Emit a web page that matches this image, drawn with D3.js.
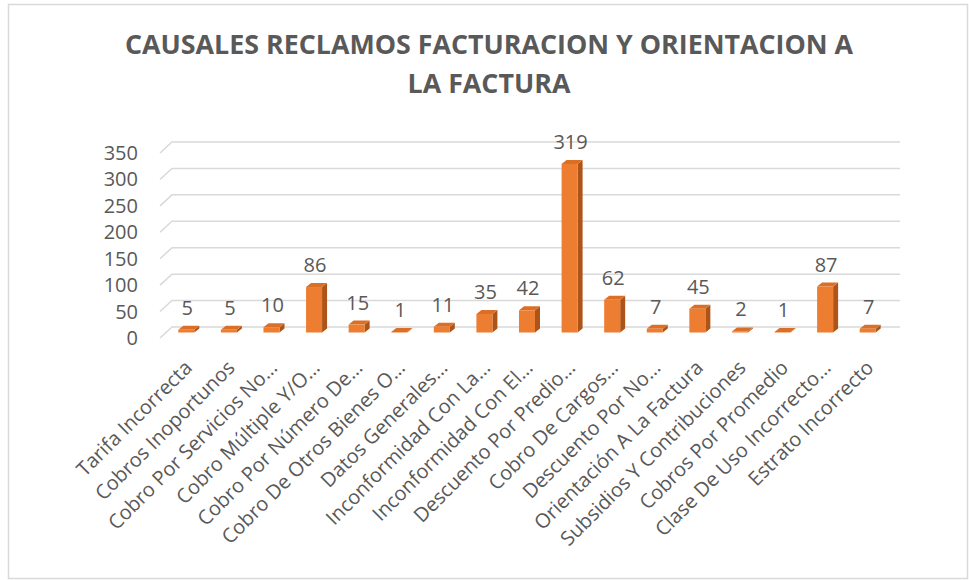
<!DOCTYPE html>
<html lang="es">
<head>
    <meta charset="UTF-8">
    <title>Causales reclamos facturacion</title>
    <script src="https://d3js.org/d3.v7.min.js"></script>
    <style>
        body { margin: 0; background: #fff; }
    </style>
</head>
<body>
    <div id="chart"></div>
    <script>
        // chart data
        const categories = [
            "Tarifa Incorrecta", "Cobros Inoportunos", "Cobro Por Servicios No…",
            "Cobro Múltiple Y/O…", "Cobro Por Número De…", "Cobro De Otros Bienes O…",
            "Datos Generales…", "Inconformidad Con La…", "Inconformidad Con El…",
            "Descuento Por Predio…", "Cobro De Cargos…", "Descuento Por No…",
            "Orientación A La Factura", "Subsidios Y Contribuciones", "Cobros Por Promedio",
            "Clase De Uso Incorrecto…", "Estrato Incorrecto"
        ];
        const values = [5, 5, 10, 86, 15, 1, 11, 35, 42, 319, 62, 7, 45, 2, 1, 87, 7];
        const yTicks = [0, 50, 100, 150, 200, 250, 300, 350];
        const titleLines = ["CAUSALES RECLAMOS FACTURACION Y ORIENTACION A", "LA FACTURA"];

        const W = 969, H = 580;
        const textColor = "#595959";
        const font = "'Open Sans', sans-serif";
        const fontSize = 20;

        // 3d depth of the back wall and the bars
        const depth = { dx: 12, dy: 11 };
        const bar = { w: 16, dx: 5, dy: 4 };

        const svg = d3.select("#chart").append("svg")
            .attr("width", W)
            .attr("height", H);

        // chart border
        svg.append("rect")
            .attr("x", 8.5).attr("y", 4.5)
            .attr("width", 959).attr("height", 574)
            .attr("fill", "#fff")
            .attr("stroke", "#d9d9d9")
            .attr("stroke-width", 1.5);

        // scales (back wall)
        const x = d3.scaleBand()
            .domain(categories)
            .range([171, 895]);

        const y = d3.scaleLinear()
            .domain([0, 350])
            .range([327, 142]);

        // gridlines: slanted floor edge + back wall line
        const grid = svg.append("g");
        yTicks.forEach(t => {
            grid.append("path")
                .attr("d", `M${x.range()[0] - depth.dx + 1},${y(t) + depth.dy} L${x.range()[0] + 1},${y(t)} L${x.range()[1] + 5},${y(t)}`)
                .attr("fill", "none")
                .attr("stroke", "#d9d9d9")
                .attr("stroke-width", 1.5);
        });

        // y tick labels at the front edge
        svg.append("g").selectAll("text")
            .data(yTicks)
            .join("text")
            .attr("x", 138)
            .attr("y", d => y(d) + depth.dy)
            .attr("dy", "0.35em")
            .attr("text-anchor", "end")
            .attr("font-family", font)
            .attr("font-size", fontSize)
            .attr("fill", textColor)
            .text(d => d);

        // bars sit at mid depth
        const midX = -depth.dx / 2, midY = depth.dy / 2;
        const bars = svg.append("g");

        categories.forEach((c, i) => {
            const v = values[i];
            const cx = x(c) + x.bandwidth() / 2 + midX;
            const x0 = cx - bar.w / 2, x1 = cx + bar.w / 2;
            const yb = y(0) + midY;
            const yt = y(v) + midY;

            // side face
            bars.append("path")
                .attr("d", `M${x1},${yb} L${x1 + bar.dx},${yb - bar.dy} L${x1 + bar.dx},${yt - bar.dy} L${x1},${yt} Z`)
                .attr("fill", "#ae5419");
            // top face
            bars.append("path")
                .attr("d", `M${x0},${yt} L${x0 + bar.dx},${yt - bar.dy} L${x1 + bar.dx},${yt - bar.dy} L${x1},${yt} Z`)
                .attr("fill", "#dc6f26");
            // front face
            bars.append("rect")
                .attr("x", x0).attr("y", yt)
                .attr("width", bar.w).attr("height", yb - yt)
                .attr("fill", "#ed7d31");

            // value label
            svg.append("text")
                .attr("x", cx + 1)
                .attr("y", yt - 15)
                .attr("text-anchor", "middle")
                .attr("font-family", font)
                .attr("font-size", fontSize)
                .attr("fill", textColor)
                .text(v);
        });

        // category labels, rotated -45
        svg.append("g").selectAll("text")
            .data(categories)
            .join("text")
            .attr("transform", d => `translate(${x(d) + x.bandwidth() / 2 + midX + 7},${369}) rotate(-45)`)
            .attr("text-anchor", "end")
            .attr("font-family", font)
            .attr("font-size", fontSize)
            .attr("fill", textColor)
            .text(d => d);

        // title
        const titleWidths = [728, 163];
        svg.append("g").selectAll("text")
            .data(titleLines)
            .join("text")
            .attr("x", 489)
            .attr("y", (d, i) => 54 + i * 38.5)
            .attr("text-anchor", "middle")
            .attr("font-family", font)
            .attr("font-weight", "bold")
            .attr("font-size", 27)
            .attr("fill", textColor)
            .attr("textLength", (d, i) => titleWidths[i])
            .attr("lengthAdjust", "spacingAndGlyphs")
            .text(d => d);
    </script>
</body>
</html>
